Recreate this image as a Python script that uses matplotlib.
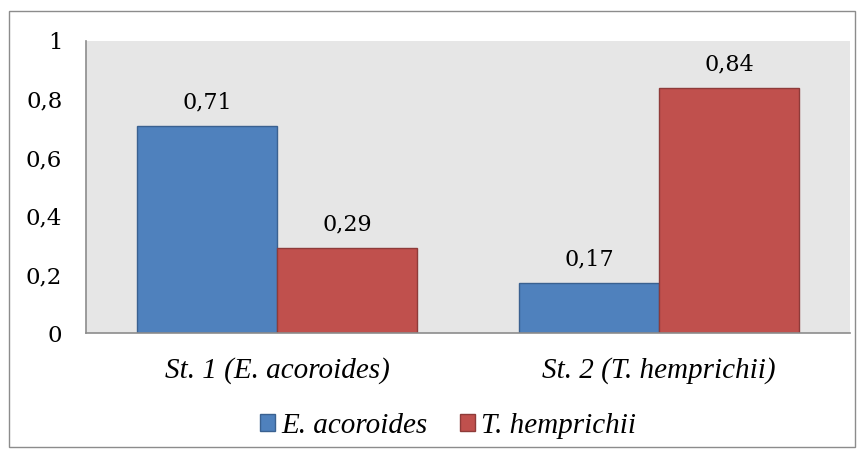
import matplotlib.pyplot as plt
import numpy as np
from matplotlib.patches import Rectangle

# proportions per station
stations = ["St. 1 (E. acoroides)", "St. 2 (T. hemprichii)"]
series_names = ["E. acoroides", "T. hemprichii"]
e_acoroides = [0.71, 0.17]
t_hemprichii = [0.29, 0.84]
yticks = [0, 0.2, 0.4, 0.6, 0.8, 1]
ytick_labels = ["0", "0,2", "0,4", "0,6", "0,8", "1"]

blue, blue_edge = "#4F81BD", "#3A6190"
red, red_edge = "#C0504D", "#8E3B39"
num_font = "DejaVu Serif"
ital_font = "Liberation Serif"

fig = plt.figure(figsize=(8.64, 4.57), dpi=100)
ax = fig.add_axes([0.0995, 0.2713, 0.8845, 0.639])
ax.set_facecolor("#E6E6E6")

x = np.arange(len(stations))
w = 0.366
b1 = ax.bar(x - w / 2, e_acoroides, w, color=blue, edgecolor=blue_edge, linewidth=1, label=series_names[0])
b2 = ax.bar(x + w / 2, t_hemprichii, w, color=red, edgecolor=red_edge, linewidth=1, label=series_names[1])

for bars, vals in [(b1, e_acoroides), (b2, t_hemprichii)]:
    for r, v in zip(bars, vals):
        ax.annotate(f"{v:.2f}".replace(".", ","), (r.get_x() + r.get_width() / 2, v),
                    xytext=(0, 9), textcoords="offset points", ha="center", va="bottom",
                    fontsize=16, family=num_font)

ax.set_xlim(-0.5, 1.5)
ax.set_ylim(0, 1)
ax.set_yticks(yticks)
ax.set_yticklabels(ytick_labels, family=num_font, fontsize=16.5)
ax.set_xticks(x)
ax.set_xticklabels(stations, family=ital_font, style="italic", fontsize=21)
ax.tick_params(axis="y", length=0, pad=17)
ax.tick_params(axis="x", length=0, pad=17)

for s in ["top", "right"]:
    ax.spines[s].set_visible(False)
for s in ["left", "bottom"]:
    ax.spines[s].set_color("#8C8C8C")
    ax.spines[s].set_linewidth(1.2)

leg = fig.legend(handles=[b1, b2], loc="center", bbox_to_anchor=(0.5185, 0.068), ncol=2, frameon=False,
                 prop={"family": ital_font, "style": "italic", "size": 21},
                 handlelength=0.52, handleheight=0.52, handletextpad=0.2, columnspacing=1.13)

fig.patches.append(Rectangle((9 / 864, 10 / 457), 846 / 864, 436 / 457, transform=fig.transFigure,
                             fill=False, edgecolor="#8C8C8C", linewidth=1))

fig.savefig("out.png", dpi=100)
